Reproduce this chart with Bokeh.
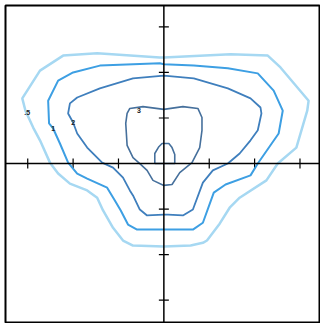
import math
from bokeh.plotting import figure
from bokeh.models import Span
from bokeh.embed import file_html
from bokeh.resources import INLINE

# contour level .5
c05_x = [0, 1.47, 2.29, 2.57, 3.19, 3.16, 2.92, 2.51, 2.26, 1.67, 1.45, 1.23, 0.95, 0.86, 0.59, 0,
         -0.68, -0.90, -1.12, -1.34, -1.47, -1.69, -2.07, -2.33, -2.51, -2.73, -2.88, -3.05, -3.12,
         -2.73, -2.22, -1.47, -0.09, 0]
c05_y = [2.33, 2.40, 2.37, 2.11, 1.38, 1.16, 0.35, 0, -0.37, -0.75, -0.97, -1.32, -1.69, -1.74, -1.80, -1.82,
         -1.80, -1.69, -1.41, -1.03, -0.75, -0.59, -0.44, -0.22, 0.02, 0.51, 0.79, 1.16, 1.43,
         2.04, 2.37, 2.42, 2.33, 2.33]
# contour level 1
c1_x = [0, 0.66, 1.41, 2.07, 2.42, 2.62, 2.53, 2.07, 1.91, 1.36, 1.10, 0.86, 0.64, 0.31, 0,
        -0.59, -0.79, -0.95, -1.08, -1.25, -1.69, -1.91, -2.11, -2.29, -2.44, -2.53, -2.55, -2.33,
        -2.00, -1.41, -0.09, 0]
c1_y = [2.18, 2.15, 2.09, 1.98, 1.60, 1.16, 0.66, 0, -0.26, -0.46, -0.64, -1.30, -1.45, -1.45, -1.45,
        -1.45, -1.34, -1.03, -0.81, -0.53, -0.33, -0.22, 0.02, 0.44, 0.77, 0.88, 1.38, 1.82,
        2.00, 2.15, 2.20, 2.18]
# contour level 2
c2_x = [0, 0.66, 1.41, 1.91, 2.13, 2.15, 2.07, 1.91, 1.67, 1.41, 1.08, 0.86, 0.64, 0.42, 0.09, 0,
        -0.37, -0.53, -0.68, -0.75, -0.90, -1.12, -1.36, -1.69, -1.91, -2.00, -2.11, -2.07, -1.91,
        -1.41, -0.68, 0]
c2_y = [1.93, 1.87, 1.65, 1.43, 1.23, 1.10, 0.73, 0.51, 0.22, 0, -0.15, -0.42, -1.01, -1.14, -1.12, -1.12,
        -1.14, -1.01, -0.70, -0.59, -0.31, -0.09, 0.02, 0.35, 0.66, 0.90, 1.10, 1.32, 1.45,
        1.65, 1.87, 1.93]
# contour level 3
c3_x = [0, 0.42, 0.75, 0.84, 0.84, 0.79, 0.62, 0.35, 0.18, 0, -0.24, -0.37, -0.53, -0.68, -0.81,
        -0.84, -0.81, -0.75, -0.46, 0]
c3_y = [1.19, 1.25, 1.21, 1.01, 0.73, 0.35, 0.02, -0.20, -0.46, -0.48, -0.37, -0.15, 0.0, 0.13, 0.40,
        0.88, 1.10, 1.21, 1.25, 1.19]
# innermost contour
c4_x = [-0.20, -0.20, -0.11, -0.04, 0.11, 0.18, 0.24, 0.24, -0.20]
c4_y = [0, 0.22, 0.37, 0.44, 0.44, 0.35, 0.20, 0, 0]

label_text = [".5", "1", "2", "3"]
label_x = [-3.01, -2.44, -2.00, -0.55]
label_y = [1.12, 0.77, 0.90, 1.16]

tick_values = [-3, -2, -1, 1, 2, 3]
tick_zero = [0, 0, 0, 0, 0, 0]

p = figure(width=320, height=323, x_range=(-3.49, 3.43), y_range=(-3.49, 3.47),
           output_backend="svg", toolbar_location=None,
           min_border_left=5, min_border_top=5, min_border_right=1, min_border_bottom=1)
p.grid.visible = False
p.xaxis.visible = False
p.yaxis.visible = False
p.outline_line_color = "black"
p.outline_line_width = 2
p.outline_line_alpha = 1
p.background_fill_color = "white"

# cross axes through the origin
p.add_layout(Span(location=0, dimension="width", line_color="black", line_width=1.5))
p.add_layout(Span(location=0, dimension="height", line_color="black", line_width=1.5))
# tick marks crossing the axes
p.scatter(tick_values, tick_zero, marker="dash", size=10, angle=math.pi / 2,
          line_color="black", line_width=1.2)
p.scatter(tick_zero, tick_values, marker="dash", size=10,
          line_color="black", line_width=1.2)

p.line(c05_x, c05_y, line_color="#a6d8f2", line_width=2.5)
p.line(c1_x, c1_y, line_color="#3d9fe3", line_width=2)
p.line(c2_x, c2_y, line_color="#3f7fbd", line_width=1.8)
p.line(c3_x, c3_y, line_color="#46709c", line_width=1.6)
p.line(c4_x, c4_y, line_color="#46709c", line_width=1.6)

p.text(x=label_x, y=label_y, text=label_text, text_font_size="7px", text_align="center",
       text_baseline="middle", text_color="#222222", text_font_style="bold")

open("out.html", "w").write(file_html(p, INLINE))
